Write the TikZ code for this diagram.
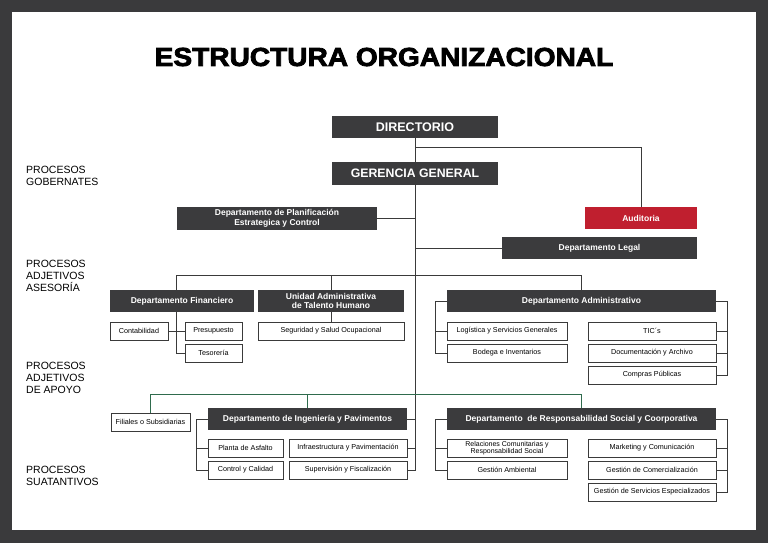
\documentclass[tikz,border=0pt]{standalone}
\usepackage{fontspec}
\setmainfont{Liberation Sans}
\newfontfamily\titfont[FakeBold=3,FakeStretch=1.08]{Liberation Sans}
\usetikzlibrary{positioning}
\definecolor{marco}{HTML}{3A3A3C}
\definecolor{caja}{HTML}{3B3B3D}
\definecolor{rojo}{HTML}{C01F2F}
\definecolor{verde}{HTML}{2F6B4D}
\definecolor{linea}{HTML}{3A3A3A}
\begin{document}
\begin{tikzpicture}[x=1pt,y=-1pt,
    dbox/.style={fill=caja,text=white,inner sep=0pt,minimum height=22pt,align=center,font=\bfseries\fontsize{8.5}{9.8}\selectfont},
    wbox/.style={draw=linea,line width=0.8pt,fill=white,inner sep=0pt,minimum height=18pt,align=center,font=\fontsize{7.2}{8}\selectfont},
    lbl/.style={anchor=north west,inner sep=0pt,align=left,font=\fontsize{10.5}{12}\selectfont},
    con/.style={draw=linea,line width=0.8pt},
    gcon/.style={draw=verde,line width=0.9pt}]
 % marco
 \fill[marco] (0,0) rectangle (768,543);
 \fill[white] (12,12) rectangle (756,530);
 \useasboundingbox (0,0) rectangle (768,543);
 \node[inner sep=0pt,font=\titfont\bfseries\fontsize{26}{30}\selectfont] (tit) at (384,57) {ESTRUCTURA ORGANIZACIONAL};
 % procesos
 \node[lbl] (p1) at (26,166) {PROCESOS\\GOBERNATES};
 \node[lbl] (p2) at (26,260) {PROCESOS\\ADJETIVOS\\ASESORÍA};
 \node[lbl] (p3) at (26,362) {PROCESOS\\ADJETIVOS\\DE APOYO};
 \node[lbl] (p4) at (26,466) {PROCESOS\\SUATANTIVOS};
 % cajas oscuras
 \node[dbox,minimum width=166pt,font=\bfseries\fontsize{12.5}{14}\selectfont] (dir) at (415,127) {DIRECTORIO};
 \node[dbox,minimum width=166pt,minimum height=23pt,font=\bfseries\fontsize{12.3}{14}\selectfont] (ger) at (415,173.5) {GERENCIA GENERAL};
 \node[dbox,minimum width=200pt,minimum height=23pt] (plan) at (277,218.5) {Departamento de Planificación\\Estrategica y Control};
 \node[dbox,minimum width=112pt,fill=rojo] (aud) at (641,218) {Auditoria};
 \node[dbox,minimum width=195pt] (leg) at (599.5,248) {Departamento Legal};
 \node[dbox,minimum width=144pt] (fin) at (182,301) {Departamento Financiero};
 \node[dbox,minimum width=146pt] (uni) at (331,301) {Unidad Administrativa\\de Talento Humano};
 \node[dbox,minimum width=269pt] (adm) at (581.5,301) {Departamento Administrativo};
 \node[dbox,minimum width=199pt] (ing) at (307.5,419) {Departamento de Ingeniería y Pavimentos};
 \node[dbox,minimum width=269pt] (res) at (581.5,419) {Departamento \ de Responsabilidad Social y Coorporativa};
 % cajas blancas
 \foreach \n/\x/\y/\w/\t in {con/139/331/58/Contabilidad, pre/213.5/331/57/Presupuesto, tes/213.5/353/57/Tesorería,
     seg/331/331/146/Seguridad y Salud Ocupacional,
     log/507/331/120/Logística y Servicios Generales, bod/507/353/120/Bodega e Inventarios,
     tic/652/331/128/TIC´s, doc/652/353/128/Documentación y Archivo, com/652/375/128/Compras Públicas,
     fil/150.5/422/79/Filiales o Subsidiarias,
     asf/245.5/448/75/Planta de Asfalto, ctl/245.5/470/75/Control y Calidad,
     inf/348/448/118/Infraestructura y Pavimentación, sup/348/470/118/Supervisión y Fiscalización,
     amb/507/470/120/Gestión Ambiental,
     mar/652/448/128/Marketing y Comunicación, gco/652/470/128/Gestión de Comercialización,
     gse/652/492/128/Gestión de Servicios Especializados}
   {\node[wbox,minimum width=\w pt] (\n) at (\x,\y) {\t};}
 \node[wbox,minimum width=120pt,font=\fontsize{7}{7.2}\selectfont] (rel) at (507,448) {Relaciones Comunitarias y\\Responsabilidad Social};
 % lineas
 \draw[con] (aud.north) -- ++(0,-59) -| (dir.south);
 \draw[con] (dir.south) -- (dir.south |- sup.east) -- (sup.east);
 \draw[con] (inf.east) -- (inf.east -| dir.south);
 \draw[con] (ing.east) -- (ing.east -| dir.south);
 \draw[con] (plan.east) -- (plan.east -| dir.south);
 \draw[con] (leg.west) -- (leg.west -| dir.south);
 \draw[con] (tes.west) -- ++(-8,0) coordinate (fk) -- (fk |- fin.south);
 \draw[con] (con.east) -- (pre.west);
 \draw[con] (fk |- fin.north) -- ++(0,-14) -| (adm.north);
 \draw[con] (uni.north) -- ++(0,-14);
 \draw[con] (uni.south) -- (seg.north);
 \draw[con] (adm.west) -- ++(-11,0) |- (bod.west);
 \draw[con] (log.west) -- ++(-11,0);
 \draw[con] (adm.east) -- ++(11,0) |- (com.east);
 \draw[con] (tic.east) -- ++(11,0);
 \draw[con] (doc.east) -- ++(11,0);
 \draw[gcon] (fil.north) -- ++(0,-18) -| (res.north);
 \draw[gcon] (ing.north) -- ++(0,-13);
 \draw[con] (ing.west) -- ++(-11,0) |- (ctl.west);
 \draw[con] (asf.west) -- ++(-11,0);
 \draw[con] (res.west) -- ++(-11,0) |- (amb.west);
 \draw[con] (rel.west) -- ++(-11,0);
 \draw[con] (res.east) -- ++(11,0) |- (gse.east);
 \draw[con] (mar.east) -- ++(11,0);
 \draw[con] (gco.east) -- ++(11,0);
\end{tikzpicture}
\end{document}
